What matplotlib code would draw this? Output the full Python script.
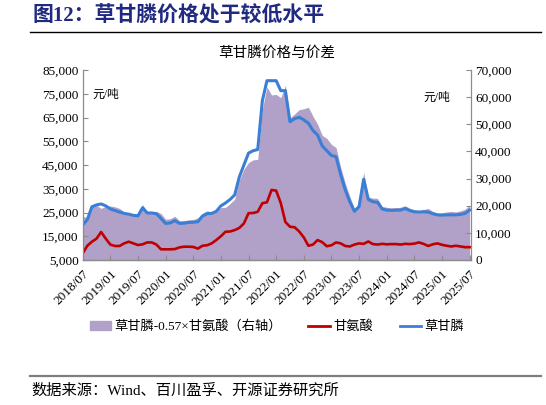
import matplotlib
matplotlib.use('Agg')
import matplotlib.pyplot as plt
from matplotlib.lines import Line2D
from matplotlib.patches import Patch
from matplotlib.ticker import FuncFormatter

plt.rcParams['font.family'] = ['Liberation Serif', 'Noto Sans CJK SC']

# month ticks, every half year from 2018/07
tick_labels = ['2018/07', '2019/01', '2019/07', '2020/01', '2020/07', '2021/01',
               '2021/07', '2022/01', '2022/07', '2023/01', '2023/07', '2024/01',
               '2024/07', '2025/01', '2025/07']

# 草甘膦 (yuan/t), monthly from 2018/07
glyphosate = [19700, 22000, 27400, 28200, 28600, 27800, 26500, 25800, 25200, 24600,
              24300, 23800, 23600, 27000, 24800, 24800, 24500, 22500, 20400, 20600,
              21600, 20400, 20500, 20800, 20900, 21100, 23500, 24500, 24600, 25500,
              27800, 29000, 30500, 32400, 40000, 45000, 50000, 51000, 51500, 72000,
              80500, 80500, 80500, 76300, 76300, 63200, 64500, 65100, 64000, 62600,
              59500, 57600, 53000, 51000, 49000, 48500, 41000, 34500, 29500, 25500,
              27500, 39000, 30500, 29500, 29300, 26500, 26000, 25900, 26000, 26000,
              26700, 25800, 25300, 25200, 25300, 25200, 24500, 24000, 23900, 24000,
              24000, 24000, 24200, 24600, 26000]

# 甘氨酸 (yuan/t)
glycine = [7800, 11000, 12700, 14000, 16800, 14000, 11500, 10900, 10900, 12000,
           12700, 12000, 11300, 11600, 12400, 12400, 11500, 9500, 9500, 9500,
           9600, 10300, 10600, 10600, 10500, 9800, 11000, 11200, 12000, 13400,
           15000, 16900, 17000, 17600, 18500, 20400, 24700, 24800, 25300, 28900,
           29300, 34500, 34200, 29000, 21000, 19000, 18800, 17000, 14500, 11000,
           11500, 13400, 12500, 10800, 11200, 12400, 12000, 10900, 10700, 11500,
           12000, 11800, 12800, 11700, 11500, 11800, 11600, 11700, 11700, 11500,
           11800, 11700, 11900, 12400, 11800, 10900, 11600, 12000, 11400, 11000,
           10700, 11000, 10700, 10400, 10400]

# 草甘膦-0.57×甘氨酸 (right axis)
spread = [16000, 15700, 20200, 20200, 19000, 19800, 19900, 19600, 19000, 17800,
          17100, 17000, 17200, 20400, 17700, 17700, 17900, 17100, 15000, 15200,
          16100, 14500, 14500, 14800, 14900, 15500, 17200, 18100, 17800, 17900,
          19300, 19400, 20800, 22400, 29500, 33400, 35900, 36900, 37100, 55500,
          63800, 60800, 61000, 59800, 64300, 52400, 53800, 55400, 55700, 56300,
          52900, 50000, 45900, 44800, 42600, 41400, 34200, 28300, 23400, 18900,
          20700, 32300, 23200, 22800, 22700, 19800, 19400, 19200, 19300, 19400,
          20000, 19100, 18500, 18100, 18600, 19000, 17900, 17200, 17400, 17700,
          17900, 17700, 18100, 18700, 20100]

months = list(range(len(glyphosate)))

W, H = 546, 405
fig = plt.figure(figsize=(W / 100, H / 100), dpi=100)
ax = fig.add_axes([82.7 / W, 1 - 260 / H, (471 - 82.7) / W, 190 / H])
ax2 = ax.twinx()

ax2.fill_between(months, spread, 0, color='#B1A0C7', lw=0)
ax.plot(months, glycine, color='#C00000', lw=1.9)
ax.plot(months, glyphosate, color='#3A7FD5', lw=2.2)
ax.set_zorder(ax2.get_zorder() + 1)
ax.patch.set_visible(False)

ax.set_xlim(0, 84.3)
ax.set_ylim(5000, 85000)
ax2.set_ylim(0, 70000)
ax.set_yticks(range(5000, 85001, 10000))
ax2.set_yticks(range(0, 70001, 10000))
fmt = FuncFormatter(lambda v, p: f'{v:,.0f}')
ax.yaxis.set_major_formatter(fmt)
ax2.yaxis.set_major_formatter(fmt)
ax.set_xticks(range(0, 85, 6))
ax.set_xticklabels(tick_labels, rotation=45, ha='right', rotation_mode='anchor')

for a in (ax, ax2):
    for s in a.spines.values():
        s.set_color('#8C8C8C')
        s.set_linewidth(0.9)
    a.spines['top'].set_visible(False)
    a.tick_params(direction='in', length=3.5, width=0.8, color='#8C8C8C',
                  labelsize=9.5, pad=3)
ax.tick_params(axis='x', pad=6)
ax2.spines['left'].set_visible(False)
ax.spines['right'].set_visible(False)

# header, subtitle, units
fig.text(33 / W, 1 - 16.5 / H, '图12：草甘膦价格处于较低水平', fontsize=15,
         fontweight='bold', color='#1F2A80', va='center')
fig.add_artist(Line2D([30 / W, 541 / W], [1 - 31.7 / H] * 2, color='black', lw=1.0))
fig.text(277 / W, 1 - 53 / H, '草甘膦价格与价差', ha='center', va='center', fontsize=10.5)
fig.text(92 / W, 1 - 95 / H, '元/吨', va='center', fontsize=8.5)
fig.text(423 / W, 1 - 98 / H, '元/吨', va='center', fontsize=8.5)

handles = [Patch(color='#B1A0C7'),
           Line2D([], [], color='#C00000', lw=2),
           Line2D([], [], color='#3A7FD5', lw=2)]
labels = ['草甘膦-0.57×甘氨酸（右轴）', '甘氨酸', '草甘膦']
fig.legend(handles, labels, loc='center', bbox_to_anchor=(277 / W, 1 - 326.7 / H),
           ncol=3, frameon=False, fontsize=9.5, handlelength=1.6,
           handleheight=0.6, columnspacing=2.0, handletextpad=0.3)

fig.add_artist(Line2D([30 / W, 541 / W], [1 - 376 / H] * 2, color='#7F7F7F', lw=1.6))
fig.text(31 / W, 1 - 391 / H, '数据来源：Wind、百川盈孚、开源证券研究所',
         va='center', fontsize=11)

fig.savefig('out.png', dpi=100)
